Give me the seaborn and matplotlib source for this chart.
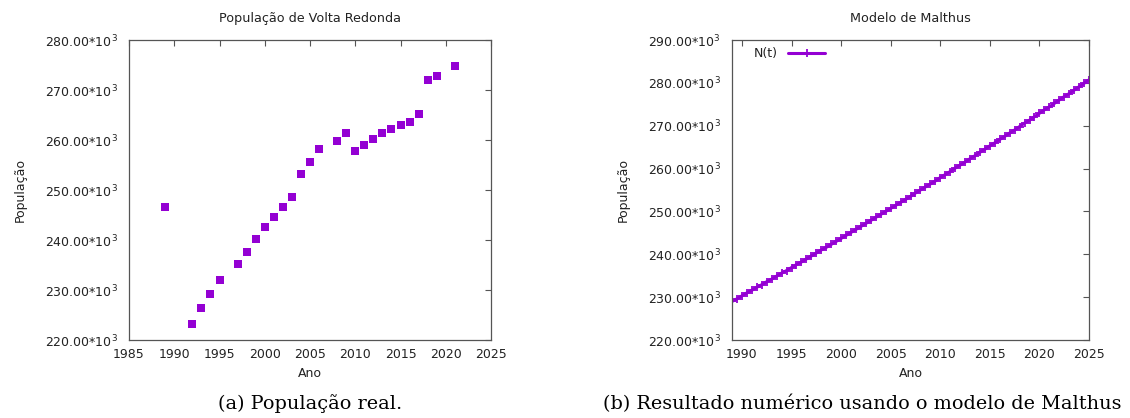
import numpy as np
import matplotlib
matplotlib.use("Agg")
import matplotlib.pyplot as plt
import seaborn as sns
from matplotlib.ticker import FuncFormatter

sns.set_theme(style="white")
plt.rcParams['font.family'] = ['DejaVu Sans']

# dados reais (a)
anos_real = [1989, 1992, 1993, 1994, 1995, 1997, 1998, 1999, 2000, 2001, 2002, 2003,
             2004, 2005, 2006, 2008, 2009, 2010, 2011, 2012, 2013, 2014, 2015, 2016,
             2017, 2018, 2019, 2021]
pop_real = [246.6, 223.3, 226.5, 229.3, 232.1, 235.2, 237.7, 240.3, 242.7, 244.7, 246.7, 248.7,
            253.2, 255.6, 258.2, 259.8, 261.4, 257.9, 259.0, 260.1, 261.5, 262.2, 263.0, 263.6,
            265.2, 272.0, 272.9, 274.9]  # mil habitantes

# resultado numerico (b), passo de meio ano
anos_modelo = np.arange(1989, 2025.5, 0.5)
pop_modelo = [229.0, 229.6, 230.3, 231.0, 231.6, 232.3, 232.9, 233.6, 234.2, 234.9,
              235.6, 236.2, 236.9, 237.6, 238.2, 238.9, 239.6, 240.3, 241.0, 241.6,
              242.3, 243.0, 243.7, 244.4, 245.1, 245.8, 246.5, 247.2, 247.9, 248.6,
              249.3, 250.0, 250.7, 251.4, 252.1, 252.8, 253.5, 254.3, 255.0, 255.7,
              256.4, 257.1, 257.9, 258.6, 259.3, 260.1, 260.8, 261.5, 262.3, 263.0,
              263.8, 264.5, 265.3, 266.0, 266.8, 267.5, 268.3, 269.0, 269.8, 270.6,
              271.3, 272.1, 272.9, 273.7, 274.4, 275.2, 276.0, 276.8, 277.5, 278.3,
              279.1, 279.9, 280.7]

cor = "#9400D3"
texto = "#222222"

fig = plt.figure(figsize=(11.3, 4.18), dpi=100)
W, H = 1130, 418
ax1 = fig.add_axes([129 / W, 78 / H, 362 / W, 300 / H])
ax2 = fig.add_axes([732 / W, 78 / H, 357 / W, 300 / H])

sns.scatterplot(x=anos_real, y=np.array(pop_real) * 1000, marker="s", s=28,
                color=cor, linewidth=0, ax=ax1)
sns.lineplot(x=anos_modelo, y=np.array(pop_modelo) * 1000, color=cor, linewidth=2.2,
             marker="+", markersize=5.5, markeredgewidth=1.3, markeredgecolor=cor,
             label="N(t)", ax=ax2)

fmt = FuncFormatter(lambda v, p: f"{v / 1000:.2f}*10$^3$")

ax1.set_xlim(1985, 2025)
ax1.set_ylim(220000, 280000)
ax1.set_xticks(range(1985, 2026, 5))
ax1.set_yticks(range(220000, 280001, 10000))
ax1.set_title("População de Volta Redonda", fontsize=9.2, color=texto, pad=13)

ax2.set_xlim(1989, 2025)
ax2.set_ylim(220000, 290000)
ax2.set_xticks(range(1990, 2026, 5))
ax2.set_yticks(range(220000, 290001, 10000))
ax2.set_title("Modelo de Malthus", fontsize=9.2, color=texto, pad=13)

for ax in (ax1, ax2):
    ax.yaxis.set_major_formatter(fmt)
    ax.set_xlabel("Ano", fontsize=9, color=texto, labelpad=4)
    ax.set_ylabel("População", fontsize=9, color=texto, labelpad=13)
    ax.tick_params(direction="in", length=4, width=0.8, top=True, right=True,
                   labelsize=9, colors="#555555", labelcolor=texto)
    ax.tick_params(axis="x", pad=6)
    ax.tick_params(axis="y", pad=8)
    for s in ax.spines.values():
        s.set_color("#555555")
        s.set_linewidth(0.9)
    ax.grid(False)

leg = ax2.legend(loc="upper left", frameon=False, markerfirst=False, fontsize=9,
                 handlelength=3, borderaxespad=0.2, bbox_to_anchor=(0.04, 1.0))
for t in leg.get_texts():
    t.set_color(texto)

serif = ['DejaVu Serif']
fig.text(310 / W, 1 - 404 / H, "(a) População real.", ha="center", va="center",
         fontsize=13.9, family=serif, color="black")
fig.text(862 / W, 1 - 404 / H, "(b) Resultado numérico usando o modelo de Malthus",
         ha="center", va="center", fontsize=13.9, family=serif, color="black")

fig.savefig("out.png", dpi=100)
